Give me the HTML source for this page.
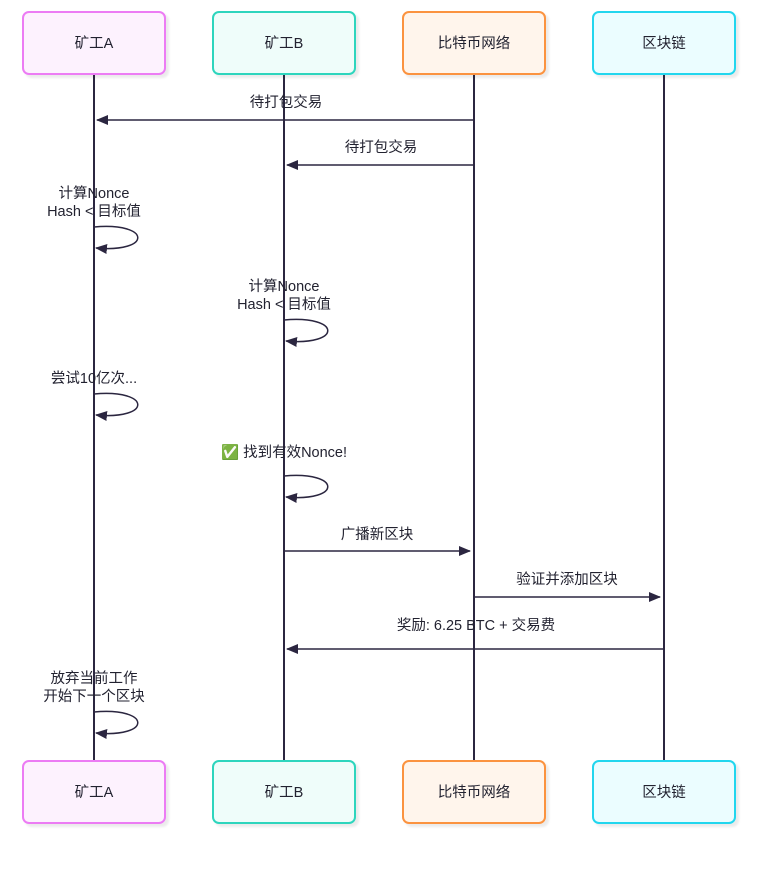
<!DOCTYPE html>
<html><head><meta charset="utf-8"><style>
body{margin:0;background:#fff;}
svg text{font-family:"Liberation Sans","Noto Sans CJK SC",sans-serif;font-size:14.5px;fill:#222230;text-anchor:middle;}
</style></head><body>
<svg width="778" height="867" xmlns="http://www.w3.org/2000/svg">
<defs>
<marker id="ar" markerWidth="12" markerHeight="10" refX="11" refY="5" orient="auto" markerUnits="userSpaceOnUse"><path d="M0,0 L12,5 L0,10 z" fill="#2b2640"/></marker>
<filter id="sh"><feDropShadow dx="3" dy="3" stdDeviation="1" flood-color="#000" flood-opacity="0.08"/></filter>
</defs>
<g stroke="#2b2640" stroke-width="2">
<line x1="94" y1="74" x2="94" y2="761"/><line x1="284" y1="74" x2="284" y2="761"/>
<line x1="474" y1="74" x2="474" y2="761"/><line x1="664" y1="74" x2="664" y2="761"/>
</g>
<g stroke-width="2" filter="url(#sh)">
<rect x="23" y="12" width="142" height="62" rx="6" fill="#fdf2fe" stroke="#ec7cf4"/>
<rect x="213" y="12" width="142" height="62" rx="6" fill="#effdfa" stroke="#2fd5bd"/>
<rect x="403" y="12" width="142" height="62" rx="6" fill="#fff5ec" stroke="#fb933f"/>
<rect x="593" y="12" width="142" height="62" rx="6" fill="#ebfdff" stroke="#22d6ee"/>
<rect x="23" y="761" width="142" height="62" rx="6" fill="#fdf2fe" stroke="#ec7cf4"/>
<rect x="213" y="761" width="142" height="62" rx="6" fill="#effdfa" stroke="#2fd5bd"/>
<rect x="403" y="761" width="142" height="62" rx="6" fill="#fff5ec" stroke="#fb933f"/>
<rect x="593" y="761" width="142" height="62" rx="6" fill="#ebfdff" stroke="#22d6ee"/>
</g>
<text x="94" y="48">矿工A</text><text x="284" y="48">矿工B</text><text x="474" y="48">比特币网络</text><text x="664" y="48">区块链</text>
<text x="94" y="797">矿工A</text><text x="284" y="797">矿工B</text><text x="474" y="797">比特币网络</text><text x="664" y="797">区块链</text>
<g stroke="#2b2640" stroke-width="1.5" fill="none" marker-end="url(#ar)">
<line x1="474" y1="120" x2="97" y2="120"/>
<line x1="474" y1="165" x2="287" y2="165"/>
<line x1="284" y1="551" x2="470" y2="551"/>
<line x1="474" y1="597" x2="660" y2="597"/>
<line x1="664" y1="649" x2="287" y2="649"/>
<path d="M94,227 C152,222 152,253 96,248"/>
<path d="M284,320 C342,315 342,346 286,341"/>
<path d="M94,394 C152,389 152,420 96,415"/>
<path d="M284,476 C342,471 342,502 286,497"/>
<path d="M94,712 C152,707 152,738 96,733"/>
</g>
<text x="286" y="107">待打包交易</text>
<text x="381" y="152">待打包交易</text>
<text x="94" y="198">计算Nonce</text><text x="94" y="216">Hash &lt; 目标值</text>
<text x="284" y="291">计算Nonce</text><text x="284" y="309">Hash &lt; 目标值</text>
<text x="94" y="383">尝试10亿次...</text>
<text x="284" y="457">✅ 找到有效Nonce!</text>
<text x="377" y="539">广播新区块</text>
<text x="567" y="584">验证并添加区块</text>
<text x="476" y="630">奖励: 6.25 BTC + 交易费</text>
<text x="94" y="683">放弃当前工作</text><text x="94" y="701">开始下一个区块</text>
</svg>
</body></html>
